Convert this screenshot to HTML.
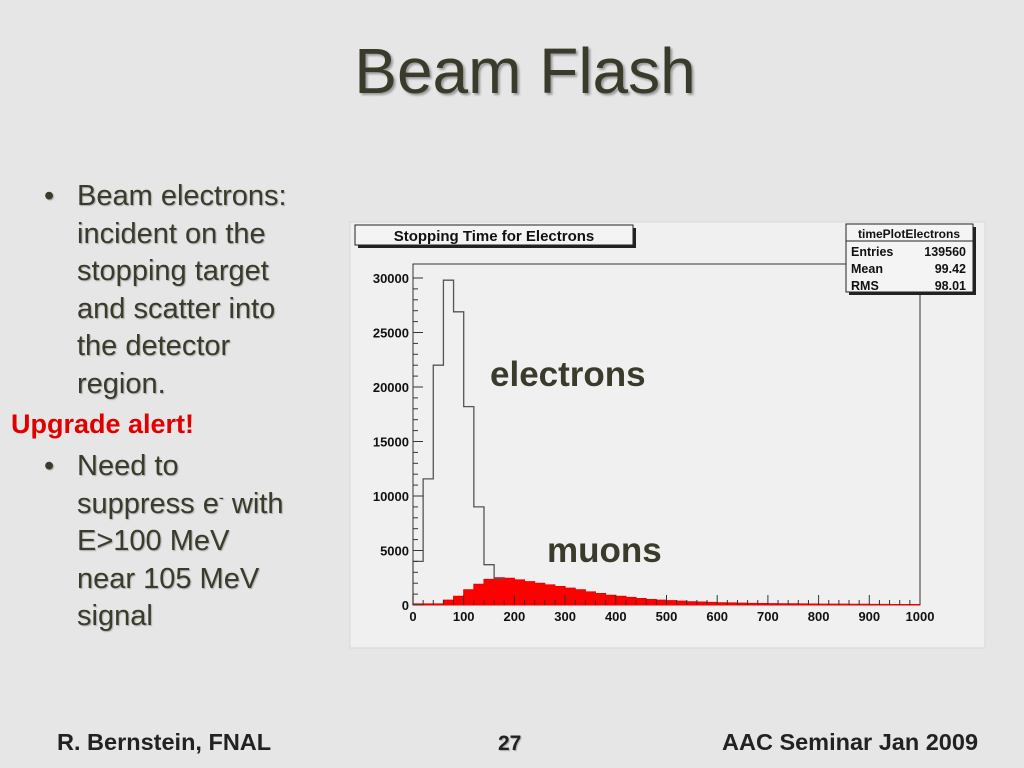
<!DOCTYPE html>
<html><head><meta charset="utf-8"><style>
body{margin:0;width:1024px;height:768px;background:#e6e6e6;overflow:hidden;position:relative;font-family:"Liberation Sans",sans-serif}
.t{position:absolute;color:#3b3b2b;white-space:nowrap}
sup{line-height:0}
</style></head><body>
<div class="t" style="left:0;width:1050px;top:34px;text-align:center;font-size:64px;text-shadow:2px 2px 2px #999">Beam Flash</div>
<div class="t" style="left:44px;top:178px;font-size:29px;line-height:37.5px;text-shadow:1px 1px 1px #aaa">•<span style="position:absolute;left:33px;top:0">Beam electrons:<br>incident on the<br>stopping target<br>and scatter into<br>the detector<br>region.</span></div>
<div class="t" style="left:11px;top:409px;font-size:27px;font-weight:bold;color:#e00000">Upgrade alert!</div>
<div class="t" style="left:44px;top:448px;font-size:29px;line-height:37.5px;text-shadow:1px 1px 1px #aaa">•<span style="position:absolute;left:33px;top:0">Need to<br>suppress e<sup style="font-size:15px">-</sup> with<br>E&gt;100 MeV<br>near 105 MeV<br>signal</span></div>
<div class="t" style="left:57px;top:729px;font-size:23.5px;font-weight:bold;color:#222">R. Bernstein, FNAL</div>
<div class="t" style="left:498px;top:732px;font-size:21px;font-weight:bold;color:#222;text-shadow:1px 1px 1px #aaa">27</div>
<div class="t" style="left:722px;top:729px;font-size:23.5px;font-weight:bold;color:#222">AAC Seminar Jan 2009</div>
<svg id="chart" width="1024" height="768" style="position:absolute;left:0;top:0" font-family="Liberation Sans, sans-serif"></svg>
<script>
const binWidth=20;
const electrons=[4000,11570,22000,29800,26900,18200,9000,3700,2400];
const muons=[100,100,100,450,800,1400,1900,2350,2500,2450,2300,2150,2000,1850,1700,1550,1400,1200,1050,900,800,700,600,500,450,400,350,300,270,240,210,190,170,150,140,130,120,110,100,90,85,80,75,70,65,60,55,50,50,50];
const yTicks=[0,5000,10000,15000,20000,25000,30000];
const xTicks=[0,100,200,300,400,500,600,700,800,900,1000];
const stats=[["Entries","139560"],["Mean","99.42"],["RMS","98.01"]];
const svg=document.getElementById('chart');const NS='http://www.w3.org/2000/svg';
const X0=413,X1=920,Y0=605,YT=278;
const xs=v=>X0+(X1-X0)*v/1000, ys=v=>Y0-(Y0-YT)*v/30000;
function mk(t,a,p){const e=document.createElementNS(NS,t);for(const k in a)e.setAttribute(k,a[k]);(p||svg).appendChild(e);return e;}
let e;
e=mk('rect',{x:350,y:222,width:635,height:426,fill:'#f0f0f0',stroke:'#d8d8d8'});


e=mk('rect',{x:X0,y:264,width:X1-X0,height:Y0-264,fill:'none',stroke:'#333','stroke-width':1});


let d='M'+xs(0)+','+Y0;
muons.forEach((v,i)=>{d+=' L'+xs(i*binWidth)+','+ys(v)+' L'+xs((i+1)*binWidth)+','+ys(v);});
d+=' L'+xs(muons.length*binWidth)+','+Y0+'Z';
e=mk('path',{d:d,fill:'#ff0000',stroke:'#ee0000'});


d='M'+xs(0)+','+Y0;
electrons.forEach((v,i)=>{d+=' L'+xs(i*binWidth)+','+ys(v)+' L'+xs((i+1)*binWidth)+','+ys(v);});
e=mk('path',{d:d,fill:'none',stroke:'#555','stroke-width':1.3});


yTicks.forEach(v=>{mk('line',{x1:X0,x2:X0+10,y1:ys(v),y2:ys(v),stroke:'#333'});
 const t=mk('text',{x:X0-4,y:ys(v)+5,'text-anchor':'end','font-size':13,'font-weight':'bold',fill:'#111'});t.textContent=v;
 
 });
for(let v=1000;v<31000;v+=1000){if(v%5000)mk('line',{x1:X0,x2:X0+5,y1:ys(v),y2:ys(v),stroke:'#333'});}
xTicks.forEach(v=>{mk('line',{x1:xs(v),x2:xs(v),y1:Y0,y2:Y0-10,stroke:'#333'});
 const t=mk('text',{x:xs(v),y:Y0+16,'text-anchor':'middle','font-size':13,'font-weight':'bold',fill:'#111'});t.textContent=v;
 
 });
for(let v=20;v<1000;v+=20){if(v%100)mk('line',{x1:xs(v),x2:xs(v),y1:Y0,y2:Y0-5,stroke:'#333'});}
mk('rect',{x:358,y:228,width:278,height:20,fill:'#222'});
e=mk('rect',{x:355,y:225,width:278,height:20,fill:'#f4f4f4',stroke:'#222'});


e=mk('text',{x:494,y:241,'text-anchor':'middle','font-size':15,'font-weight':'bold',fill:'#111'});e.textContent='Stopping Time for Electrons';


mk('rect',{x:849,y:227,width:127,height:68,fill:'#222'});
e=mk('rect',{x:846,y:224,width:127,height:68,fill:'#f4f4f4',stroke:'#222'});


mk('line',{x1:846,x2:973,y1:241,y2:241,stroke:'#222'});
e=mk('text',{x:909,y:238,'text-anchor':'middle','font-size':12,'font-weight':'bold',fill:'#111'});e.textContent='timePlotElectrons';
stats.forEach((s,i)=>{const y=256+i*17;
 let t=mk('text',{x:851,y:y,'font-size':12.5,'font-weight':'bold',fill:'#111'});t.textContent=s[0];
 t=mk('text',{x:966,y:y,'text-anchor':'end','font-size':12.5,'font-weight':'bold',fill:'#111'});t.textContent=s[1];});
e=mk('text',{x:490,y:386,'font-size':35,'font-weight':'bold',fill:'#3b3b2b'});e.textContent='electrons';


e=mk('text',{x:547,y:562,'font-size':35,'font-weight':'bold',fill:'#3b3b2b'});e.textContent='muons';


</script>
</body></html>
